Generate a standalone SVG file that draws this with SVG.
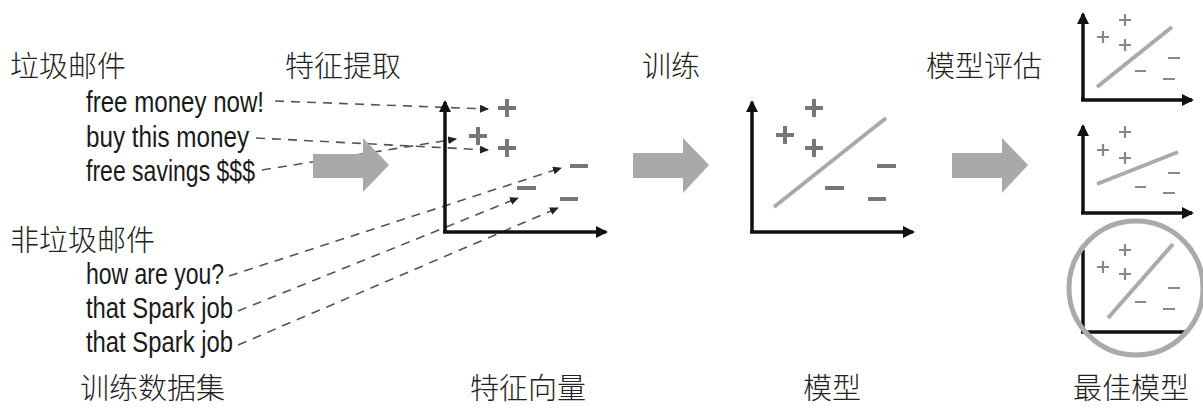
<svg xmlns="http://www.w3.org/2000/svg" width="1203" height="408" viewBox="0 0 1203 408">
<style>
.zh{font-family:"Noto Sans CJK SC","Noto Sans",sans-serif;font-size:29px;font-weight:300;fill:#222}
.en{font-family:"Liberation Sans","DejaVu Sans",sans-serif;font-size:29px;fill:#1a1a1a}
.axis{stroke:#111;stroke-width:3.5;fill:none}
.dash{stroke:#555;stroke-width:1.6;stroke-dasharray:9 7;fill:none}
.big{stroke:#777;stroke-width:4;fill:none}
.sm{stroke:#888;stroke-width:2.2;fill:none}
.sep{stroke:#aaa;stroke-width:4;fill:none}
.garrow{fill:#a9a9a9}
</style>
<defs>
<marker id="ah" markerWidth="12" markerHeight="12" refX="10" refY="6" orient="auto" markerUnits="userSpaceOnUse">
<path d="M0,0 L12,6 L0,12 Z" fill="#111"/>
</marker>
<marker id="dh" markerWidth="9" markerHeight="8" refX="8" refY="4" orient="auto" markerUnits="userSpaceOnUse">
<path d="M0,0 L9,4 L0,8 Z" fill="#222"/>
</marker>
</defs>

<g id="labels">
<text class="zh" x="10" y="77">垃圾邮件</text>
<text class="zh" x="285" y="77">特征提取</text>
<text class="zh" x="642" y="77">训练</text>
<text class="zh" x="926" y="77">模型评估</text>
<text class="zh" x="10" y="251">非垃圾邮件</text>
<text class="zh" x="80" y="399">训练数据集</text>
<text class="zh" x="470" y="399">特征向量</text>
<text class="zh" x="803" y="399">模型</text>
<text class="zh" x="1073" y="399">最佳模型</text>
</g>

<g id="training-data">
<text class="en" x="86" y="112" textLength="178" lengthAdjust="spacingAndGlyphs">free money now!</text>
<text class="en" x="86" y="147" textLength="163" lengthAdjust="spacingAndGlyphs">buy this money</text>
<text class="en" x="86" y="181" textLength="169" lengthAdjust="spacingAndGlyphs">free savings $$$</text>
<text class="en" x="86" y="284" textLength="138" lengthAdjust="spacingAndGlyphs">how are you?</text>
<text class="en" x="86" y="318" textLength="147" lengthAdjust="spacingAndGlyphs">that Spark job</text>
<text class="en" x="86" y="352" textLength="147" lengthAdjust="spacingAndGlyphs">that Spark job</text>
</g>

<g id="connectors">
<line class="dash" x1="275" y1="101" x2="488" y2="109" marker-end="url(#dh)"/>
<line class="dash" x1="256" y1="138" x2="488" y2="150" marker-end="url(#dh)"/>
<line class="dash" x1="262" y1="170" x2="456" y2="139" marker-end="url(#dh)"/>
<line class="dash" x1="229" y1="276" x2="561" y2="168" marker-end="url(#dh)"/>
<line class="dash" x1="238" y1="311" x2="518" y2="198" marker-end="url(#dh)"/>
<line class="dash" x1="238" y1="345" x2="558" y2="208" marker-end="url(#dh)"/>
</g>

<g id="flow-arrows">
<path class="garrow" d="M313,154 L363,154 L363,138 L389,165 L363,192 L363,178 L313,178 Z"/>
<path class="garrow" d="M633,153 L683,153 L683,138 L709,165 L683,193 L683,178 L633,178 Z"/>
<path class="garrow" d="M952,153 L1002,153 L1002,138 L1028,165 L1002,193 L1002,178 L952,178 Z"/>
</g>

<g id="feature-vectors">
<path class="axis" d="M445,232 L445,102" marker-end="url(#ah)"/>
<path class="axis" d="M443,232 L606,232" marker-end="url(#ah)"/>
<path class="big" d="M498,108 h18 M507,99 v18 M469,136 h18 M478,127 v18 M498,148 h18 M507,139 v18"/>
<path class="big" d="M570,166 h18 M517,188 h19 M560,199 h18" stroke-width="4.5"/>
</g>

<g id="model">
<path class="axis" d="M752,232 L752,102" marker-end="url(#ah)"/>
<path class="axis" d="M750,232 L913,232" marker-end="url(#ah)"/>
<path class="big" d="M805,108 h18 M814,99 v18 M776,135 h18 M785,126 v18 M805,148 h18 M814,139 v18"/>
<path class="big" d="M877,166 h19 M825,188 h19 M868,199 h18" stroke-width="4.5"/>
<line class="sep" x1="774" y1="207" x2="886" y2="118"/>
</g>

<g id="eval-model-1">
<path class="axis" d="M1083,100 L1083,14" marker-end="url(#ah)"/>
<path class="axis" d="M1081,100 L1192,100" marker-end="url(#ah)"/>
<path class="sm" d="M1119,20 h12 M1125,14 v12 M1097,37 h12 M1103,31 v12 M1119,45 h12 M1125,39 v12"/>
<path class="sm" d="M1168,58 h12 M1135,71 h11 M1163,79 h12"/>
<line class="sep" x1="1097" y1="87" x2="1172" y2="27"/>
</g>

<g id="eval-model-2">
<path class="axis" d="M1083,213 L1083,126" marker-end="url(#ah)"/>
<path class="axis" d="M1081,213 L1192,213" marker-end="url(#ah)"/>
<path class="sm" d="M1119,132 h12 M1125,126 v12 M1097,150 h12 M1103,144 v12 M1119,158 h12 M1125,152 v12"/>
<path class="sm" d="M1168,173 h12 M1135,187 h11 M1163,193 h12"/>
<line class="sep" x1="1097" y1="184" x2="1178" y2="152"/>
</g>

<g id="best-model">
<path class="axis" d="M1083,333 L1083,250"/>
<path class="axis" d="M1081,332 L1186,332"/>
<path class="sm" d="M1119,250 h12 M1125,244 v12 M1097,267 h12 M1103,261 v12 M1119,274 h12 M1125,268 v12"/>
<path class="sm" d="M1168,288 h12 M1135,302 h11 M1163,309 h12"/>
<line class="sep" x1="1108" y1="318" x2="1173" y2="244"/>
<circle cx="1136" cy="288" r="67" fill="none" stroke="#aaa" stroke-width="5"/>
</g>
</svg>
